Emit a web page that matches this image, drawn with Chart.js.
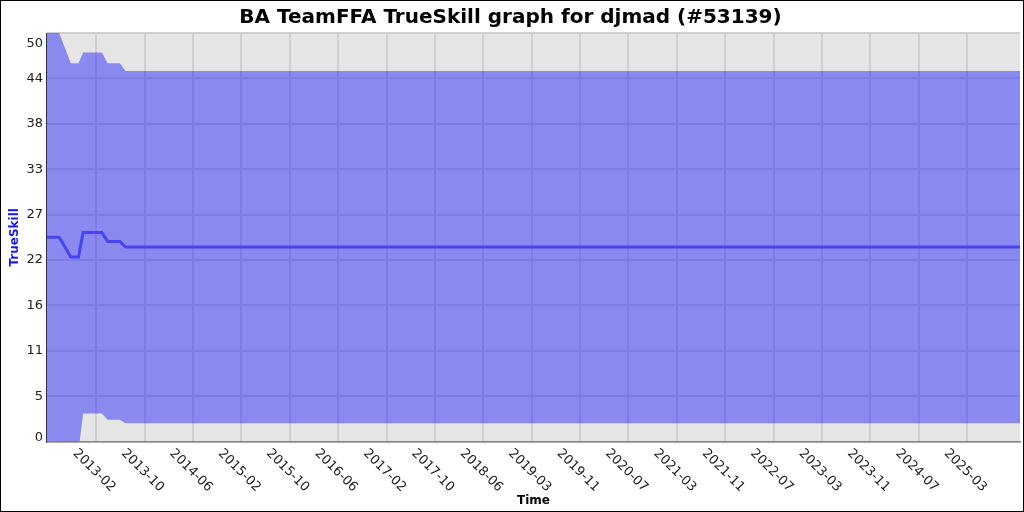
<!DOCTYPE html>
<html>
<head>
<meta charset="utf-8">
<script src="https://cdn.jsdelivr.net/npm/chart.js@4"></script>
<style>
  html, body { margin: 0; padding: 0; background: #fff; }
  #wrap { width: 1024px; height: 512px; box-sizing: border-box; border: 1px solid #000; }
  canvas { display: block; }
</style>
</head>
<body>
<div id="wrap"><canvas id="chart" width="1022" height="510"></canvas></div>
<script>
// values
const dates = ["2012-06-11", "2012-08-12", "2012-10-10", "2012-11-18", "2012-12-11",
               "2013-03-16", "2013-04-14", "2013-06-15", "2013-07-14", "2025-12-06"];
const mean  = [25.0, 25.0, 22.6, 22.6, 25.6, 25.6, 24.5, 24.5, 23.8, 23.8];
const upper = [50, 50, 46.3, 46.3, 47.6, 47.6, 46.3, 46.3, 45.35, 45.35];
const lower = [0, 0, -1.1, -1.1, 3.44, 3.44, 2.66, 2.66, 2.25, 2.25];

const xTickLabels = ["2013-02", "2013-10", "2014-06", "2015-02", "2015-10", "2016-06",
                     "2017-02", "2017-10", "2018-06", "2019-03", "2019-11", "2020-07",
                     "2021-03", "2021-11", "2022-07", "2023-03", "2023-11", "2024-07", "2025-03"];
const xTickFirst = "2013-02-15";
const xTickLast = "2025-03-14";
const yTickLabels = ["0", "5", "11", "16", "22", "27", "33", "38", "44", "50"];

const day = (s) => Date.parse(s) / 86400000;
const pts = (arr) => arr.map((v, i) => ({ x: day(dates[i]), y: v }));

const gridColor = "#cfcfcf";
const tickFont = "13px 'DejaVu Sans'";

const plotBg = {
  id: "plotBg",
  beforeDraw(chart) {
    const { ctx, chartArea: a } = chart;
    ctx.save();
    ctx.fillStyle = "#e5e5e5";
    ctx.fillRect(a.left, a.top, a.right - a.left, a.bottom - a.top);
    ctx.restore();
  }
};

// x labels centred under their tick and turned down to the right,
// plus the two end labels of the y axis kept inside the plot
const extraLabels = {
  id: "extraLabels",
  afterDraw(chart) {
    const { ctx, chartArea: a } = chart;
    const xs = chart.scales.x;
    ctx.save();
    ctx.font = tickFont;
    ctx.fillStyle = "#222";
    xs.ticks.forEach((t, i) => {
      const px = xs.getPixelForValue(t.value);
      ctx.save();
      ctx.translate(px - 2, a.bottom + 29);
      ctx.rotate(Math.PI / 4);
      ctx.textAlign = "center";
      ctx.textBaseline = "middle";
      ctx.fillText(xTickLabels[i], 0, 0);
      ctx.restore();
    });
    const rx = a.left - 4;
    ctx.textAlign = "right";
    ctx.textBaseline = "alphabetic";
    ctx.fillText(yTickLabels[yTickLabels.length - 1], rx, a.top + 14);
    ctx.fillText(yTickLabels[0], rx, a.bottom - 1);
    ctx.restore();
  }
};

new Chart(document.getElementById("chart"), {
  type: "line",
  data: {
    datasets: [
      {
        label: "upper",
        data: pts(upper),
        borderWidth: 0,
        pointRadius: 0,
        backgroundColor: "rgba(0,0,255,0.4)",
        fill: "+1",
        order: 2
      },
      {
        label: "lower",
        data: pts(lower),
        borderWidth: 0,
        pointRadius: 0,
        fill: false,
        order: 2
      },
      {
        label: "mean",
        data: pts(mean),
        borderColor: "#4646f0",
        borderWidth: 3,
        pointRadius: 0,
        fill: false,
        order: 1
      }
    ]
  },
  options: {
    responsive: false,
    animation: false,
    layout: { padding: { left: 0, right: 3, top: 0, bottom: 0 } },
    plugins: {
      legend: { display: false },
      tooltip: { enabled: false },
      title: {
        display: true,
        text: "BA TeamFFA TrueSkill graph for djmad (#53139)",
        color: "#000",
        font: { family: "'DejaVu Sans'", size: 20, weight: "bold" },
        padding: { top: 5, bottom: 3 }
      }
    },
    scales: {
      x: {
        type: "linear",
        min: day(dates[0]),
        max: day(dates[dates.length - 1]),
        afterBuildTicks: (s) => {
          const t0 = day(xTickFirst), t1 = day(xTickLast);
          const n = xTickLabels.length;
          s.ticks = xTickLabels.map((l, i) => ({ value: t0 + i * (t1 - t0) / (n - 1) }));
        },
        ticks: { display: false },
        grid: { color: gridColor, lineWidth: 2, drawTicks: false },
        border: { color: "#888", width: 1.5 },
        title: {
          display: true,
          text: "Time",
          color: "#000",
          font: { family: "'DejaVu Sans'", size: 12, weight: "bold" },
          padding: { top: 52, bottom: 3 }
        }
      },
      y: {
        min: 0,
        max: 50,
        afterBuildTicks: (s) => {
          const n = yTickLabels.length;
          s.ticks = yTickLabels.map((l, i) => ({ value: i * 50 / (n - 1) }));
        },
        ticks: {
          callback: (v, i) => yTickLabels[i],
          color: (c) => (c.index === 0 || c.index === yTickLabels.length - 1) ? "rgba(0,0,0,0)" : "#222",
          font: { family: "'DejaVu Sans'", size: 13 },
          padding: 4
        },
        grid: { color: gridColor, lineWidth: 2, drawTicks: false },
        border: { color: "#333", width: 1 },
        title: {
          display: true,
          text: "TrueSkill",
          color: "#1a1aee",
          font: { family: "'DejaVu Sans'", size: 12, weight: "bold" },
          padding: { top: 7, bottom: 0 }
        }
      }
    }
  },
  plugins: [plotBg, extraLabels]
});
</script>
</body>
</html>
